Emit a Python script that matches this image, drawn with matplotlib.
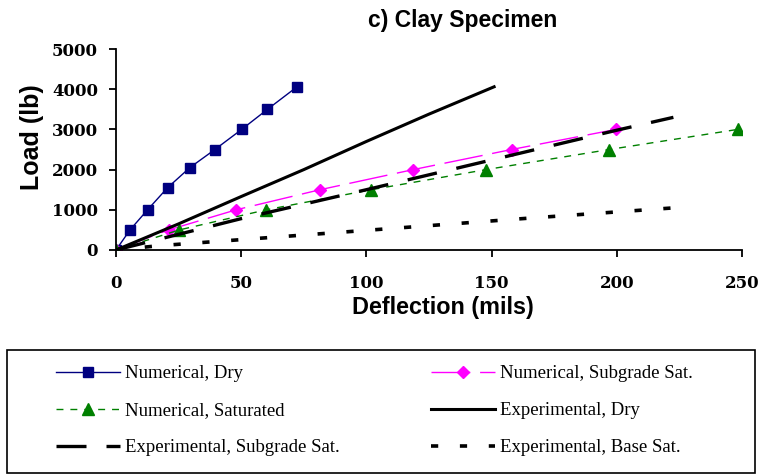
import matplotlib
matplotlib.use("Agg")
import matplotlib.pyplot as plt
from matplotlib.patches import Rectangle

# Data
num_dry_x = [0, 5.6, 12.6, 20.6, 29.5, 39.5, 50.2, 60.5, 72.1]
num_dry_y = [0, 500, 1000, 1550, 2050, 2500, 3000, 3500, 4050]

num_sub_x = [0, 21, 48, 81.5, 118.7, 158, 199.7]
num_sub_y = [0, 500, 1000, 1500, 2000, 2500, 3000]

num_sat_x = [0, 25.3, 60, 102, 147.8, 197, 248.3]
num_sat_y = [0, 500, 1000, 1500, 2000, 2500, 3000]

exp_dry_x = [0, 25, 50, 75, 100, 125, 151]
exp_dry_y = [0, 650, 1330, 2000, 2700, 3380, 4060]

exp_sub_x = [0, 50, 100, 150, 200, 222.6]
exp_sub_y = [0, 780, 1500, 2240, 2980, 3300]

exp_base_x = [0, 16, 33, 70, 111, 160, 222]
exp_base_y = [0, 100, 180, 350, 540, 770, 1045]

xticks = [0, 50, 100, 150, 200, 250]
yticks = [0, 1000, 2000, 3000, 4000, 5000]

W, H = 772, 474
fig = plt.figure(figsize=(W / 100, H / 100), dpi=100)
ax = fig.add_axes([116 / W, 1 - 250 / H, (742 - 116) / W, (250 - 49) / H])

l1, = ax.plot(num_dry_x, num_dry_y, color="#000080", lw=1.0, marker="s", ms=7.5,
              label="Numerical, Dry")
l2, = ax.plot(num_sub_x, num_sub_y, color="#FF00FF", lw=1.0, marker="D", ms=6.5,
              dashes=(28, 7), label="Numerical, Subgrade Sat.")
l3, = ax.plot(num_sat_x, num_sat_y, color="#008000", lw=1.0, marker="^", ms=8,
              dashes=(5, 5), label="Numerical, Saturated")
l4, = ax.plot(exp_dry_x, exp_dry_y, color="black", lw=2.2, label="Experimental, Dry")
l5, = ax.plot(exp_sub_x, exp_sub_y, color="black", lw=2.4, dashes=(9, 6),
              label="Experimental, Subgrade Sat.")
l6, = ax.plot(exp_base_x, exp_base_y, color="black", lw=2.6, dashes=(2, 6),
              label="Experimental, Base Sat.")

ax.set_xlim(0, 250)
ax.set_ylim(0, 5000)
ax.set_xticks(xticks)
ax.set_yticks(yticks)
ax.spines["top"].set_visible(False)
ax.spines["right"].set_visible(False)
ax.spines["left"].set_linewidth(1.3)
ax.spines["bottom"].set_linewidth(1.3)
ax.tick_params(direction="out", length=5, width=1.3)
ax.tick_params(axis="x", pad=13)
ax.tick_params(axis="y", pad=8)
for lab in ax.get_xticklabels() + ax.get_yticklabels():
    lab.set_fontfamily("DejaVu Serif")
    lab.set_fontweight("bold")
    lab.set_fontsize(12)
ax.set_xlabel("Deflection (mils)", fontsize=16.8, fontweight="bold",
              fontfamily="Liberation Sans")
ax.xaxis.set_label_coords((442.5 - 116) / 626, -0.228)
ax.set_ylabel("Load (lb)", fontsize=18, fontweight="bold",
              fontfamily="Liberation Sans")
ax.yaxis.set_label_coords(-0.115, (250 - 137) / 201)

fig.text(463 / W, 1 - 21 / H, "c) Clay Specimen", ha="center", va="center",
         fontsize=16.5, fontweight="bold", fontfamily="Liberation Sans")

# legend frame
fig.patches.append(Rectangle((7 / W, 1 / H), (755 - 7) / W, (473 - 350) / H,
                             transform=fig.transFigure, fill=False,
                             edgecolor="black", lw=1.2))

# order so that ncol=2 fills rows: col1 = l1,l3,l5 ; col2 = l2,l4,l6
order = [l1, l3, l5, l2, l4, l6]
leg = fig.legend(handles=order, labels=[h.get_label() for h in order],
                 loc="upper left", bbox_to_anchor=(56 / W, 1 - 365 / H),
                 ncol=2, frameon=False, handlelength=3.4, handletextpad=0.3,
                 borderpad=0, borderaxespad=0, labelspacing=1.06,
                 columnspacing=4.85,
                 prop={"family": "Liberation Serif", "size": 13.5})

fig.savefig("out.png", dpi=100)
